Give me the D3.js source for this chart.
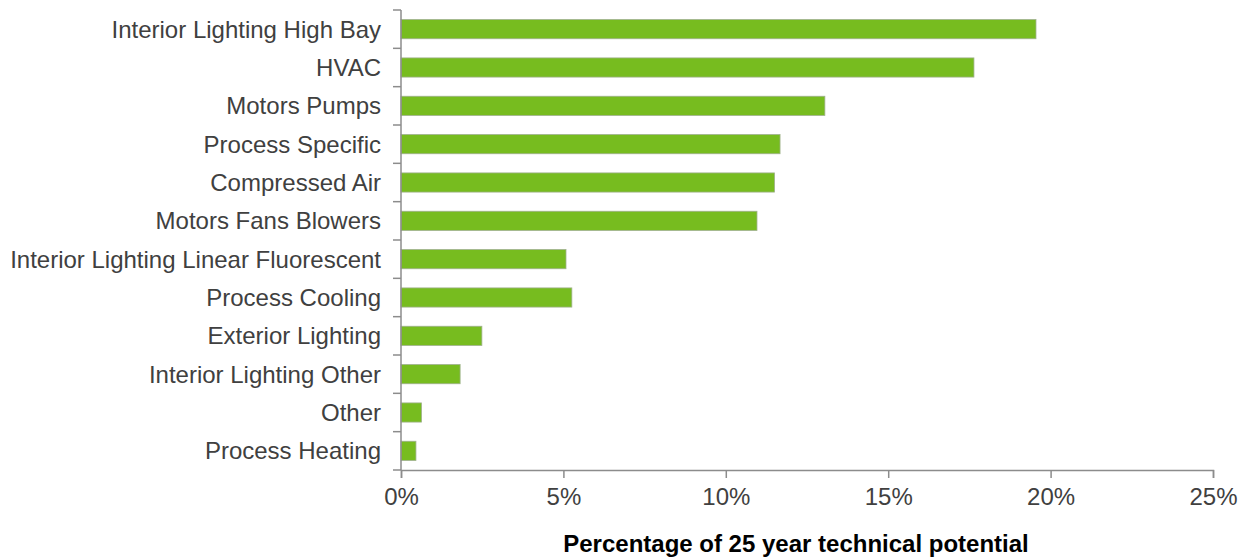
<!DOCTYPE html>
<html>
<head>
<meta charset="utf-8">
<script src="https://cdn.jsdelivr.net/npm/d3@7"></script>
<style>
  html, body { margin: 0; padding: 0; background: #fff; }
  svg { display: block; font-family: "Liberation Sans", Arial, sans-serif; }
</style>
</head>
<body>
<svg id="chart" width="1249" height="558"></svg>
<script>
const categories = [
  "Interior Lighting High Bay",
  "HVAC",
  "Motors Pumps",
  "Process Specific",
  "Compressed Air",
  "Motors Fans Blowers",
  "Interior Lighting Linear Fluorescent",
  "Process Cooling",
  "Exterior Lighting",
  "Interior Lighting Other",
  "Other",
  "Process Heating"
];
const values = [19.55, 17.64, 13.05, 11.67, 11.5, 10.96, 5.08, 5.26, 2.49, 1.82, 0.63, 0.46];
const xTicks = [0, 5, 10, 15, 20, 25];
const xTitle = "Percentage of 25 year technical potential";

const svg = d3.select("#chart");
const plotLeft = 401, plotRight = 1213, plotTop = 10, plotBottom = 470;
const axisColor = "#8c8c8c";
const textColor = "#404040";

const x = d3.scaleLinear().domain([0, 25]).range([plotLeft, plotRight]);
const y = d3.scaleBand().domain(categories).range([plotTop, plotBottom])
  .paddingInner(0.5).paddingOuter(0.25);

// bars
svg.append("g").selectAll("rect").data(values).join("rect")
  .attr("x", x(0))
  .attr("y", (d, i) => y(categories[i]))
  .attr("width", d => x(d) - x(0))
  .attr("height", y.bandwidth())
  .attr("fill", "#77bc1f")
  .attr("stroke", "#9fb08c")
  .attr("stroke-width", 0.8);

// y axis line and ticks at band boundaries
const yAxis = svg.append("g");
yAxis.append("line").attr("x1", plotLeft).attr("x2", plotLeft).attr("y1", plotTop).attr("y2", plotBottom)
  .attr("stroke", axisColor).attr("stroke-width", 1.5);
const boundaries = categories.map(c => y(c) - y.step() * y.paddingInner() / 2);
boundaries.push(plotBottom);
yAxis.selectAll("line.tick").data(boundaries).join("line")
  .attr("class", "tick")
  .attr("x1", plotLeft - 8).attr("x2", plotLeft)
  .attr("y1", d => d).attr("y2", d => d)
  .attr("stroke", axisColor).attr("stroke-width", 1.5);
yAxis.selectAll("text").data(categories).join("text")
  .attr("x", 381)
  .attr("y", d => y(d) + y.bandwidth() / 2)
  .attr("dy", "0.35em")
  .attr("text-anchor", "end")
  .attr("font-size", 24)
  .attr("fill", textColor)
  .text(d => d);

// x axis
const xAxis = d3.axisBottom(x).tickValues(xTicks).tickFormat(d => d + "%").tickSize(8).tickPadding(10);
const gx = svg.append("g").attr("transform", `translate(0,${plotBottom})`).call(xAxis);
gx.select(".domain").attr("stroke", axisColor).attr("stroke-width", 1.5);
gx.selectAll(".tick line").attr("stroke", axisColor).attr("stroke-width", 1.5);
gx.selectAll(".tick text").attr("font-size", 24).attr("fill", textColor)
  .attr("font-family", "'Liberation Sans', Arial, sans-serif");

// x title
svg.append("text")
  .attr("x", 796)
  .attr("y", 552)
  .attr("text-anchor", "middle")
  .attr("font-size", 24)
  .attr("font-weight", "bold")
  .attr("fill", "#000")
  .text(xTitle);
</script>
</body>
</html>
